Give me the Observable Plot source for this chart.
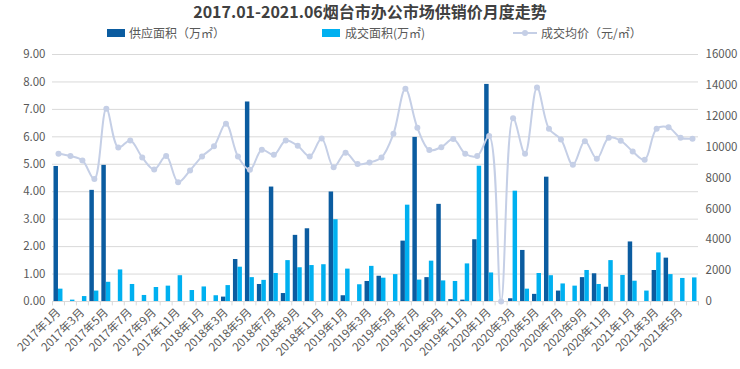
<!DOCTYPE html>
<html>
<head>
<meta charset="utf-8">
<script src="https://cdn.jsdelivr.net/npm/d3@7"></script>
<script src="https://cdn.jsdelivr.net/npm/@observablehq/plot@0.6"></script>
<style>
  html, body { margin: 0; padding: 0; background: #fff; }
  #wrap { position: relative; width: 740px; height: 369px; font-family: "Noto Sans CJK SC", "Noto Sans", sans-serif; }
  #head { position: relative; width: 740px; height: 44px; }
  #title { position: absolute; left: 0; width: 740px; top: 3px; text-align: center; font-size: 16px; font-weight: bold; color: #404040; line-height: 16px; }
  .lg { position: absolute; top: 25px; font-size: 12px; color: #595959; line-height: 16px; white-space: nowrap; }
  .sw { position: absolute; top: 29px; width: 18px; height: 8px; }
  #chart { position: absolute; left: 0; top: 44px; }
</style>
</head>
<body>
<div id="wrap">
  <div id="head">
    <div id="title">2017.01-2021.06烟台市办公市场供销价月度走势</div>
    <div class="sw" style="left:107px;background:#0b5ca0"></div>
    <div class="lg" style="left:129px">供应面积（万㎡）</div>
    <div class="sw" style="left:322px;background:#00b0f0"></div>
    <div class="lg" style="left:345px">成交面积(万㎡)</div>
    <svg style="position:absolute;left:513px;top:27px" width="24" height="12"><line x1="0" y1="6" x2="24" y2="6" stroke="#c5cfe6" stroke-width="2"/><circle cx="12" cy="6" r="3" fill="#c5cfe6"/></svg>
    <div class="lg" style="left:541px">成交均价（元/㎡）</div>
  </div>
  <div id="chart"></div>
</div>
<script>
const months = [
  "2017年1月","2017年2月","2017年3月","2017年4月","2017年5月","2017年6月","2017年7月","2017年8月","2017年9月","2017年10月","2017年11月","2017年12月",
  "2018年1月","2018年2月","2018年3月","2018年4月","2018年5月","2018年6月","2018年7月","2018年8月","2018年9月","2018年10月","2018年11月","2018年12月",
  "2019年1月","2019年2月","2019年3月","2019年4月","2019年5月","2019年6月","2019年7月","2019年8月","2019年9月","2019年10月","2019年11月","2019年12月",
  "2020年1月","2020年2月","2020年3月","2020年4月","2020年5月","2020年6月","2020年7月","2020年8月","2020年9月","2020年10月","2020年11月","2020年12月",
  "2021年1月","2021年2月","2021年3月","2021年4月","2021年5月","2021年6月"
];
const supply = [
  4.92,0,0,4.05,4.96,0,0,0,0,0,0,0,
  0,0,0.16,1.53,7.27,0.62,4.17,0.29,2.41,2.65,0,3.99,
  0.21,0,0.73,0.92,0,2.20,5.98,0.87,3.54,0.07,0.05,2.25,
  7.91,0,0.10,1.86,0.26,4.53,0.38,0,0.87,1.01,0.52,0,
  2.17,0,1.13,1.58,0,0
];
const sales = [
  0.45,0.05,0.18,0.38,0.70,1.15,0.62,0.22,0.51,0.56,0.94,0.40,
  0.53,0.21,0.58,1.25,0.87,0.77,1.02,1.49,1.23,1.31,1.34,2.98,
  1.18,0.61,1.28,0.85,0.98,3.51,0.78,1.47,0.75,0.73,1.37,4.93,
  1.04,0,4.02,0.45,1.02,0.94,0.64,0.56,1.13,0.62,1.49,0.95,
  0.74,0.38,1.77,0.98,0.84,0.86
];
const price = [
  9570,9420,9140,7930,12480,9980,10430,9330,8550,9420,7730,8490,
  9400,10060,11510,9400,8530,9830,9500,10430,10090,9400,10560,8700,
  9640,8900,9010,9330,10860,13780,11250,9810,10000,10520,9570,9420,
  10720,0,11870,9570,13870,11190,10500,8860,10380,9250,10610,10410,
  9720,9180,11190,11280,10610,10550
];
const leftTicks = [0,1,2,3,4,5,6,7,8,9];
const rightTicks = [0,2000,4000,6000,8000,10000,12000,14000,16000];
const leftMax = 9, rightMax = 16000;

const data = months.map((m, i) => ({month: m, supply: supply[i], sales: sales[i], price: price[i]}));
const toLeft = p => p * leftMax / rightMax;

const W = 740, H = 325, mL = 52, mR = 42;
const half = (W - mL - mR) / months.length / 2;
const labelMonths = months.filter((d, i) => i % 2 === 0);

const chart = Plot.plot({
  width: W, height: H,
  marginTop: 10, marginBottom: 68, marginLeft: mL, marginRight: mR,
  style: {fontFamily: '"Noto Sans CJK SC", "Noto Sans", sans-serif', fontSize: "11.5px", color: "#595959", background: "transparent"},
  x: {type: "band", domain: months, padding: 0, label: null},
  y: {domain: [0, leftMax], label: null},
  marks: [
    Plot.gridY(leftTicks.slice(1), {stroke: "#d9d9d9", strokeOpacity: 1}),
    Plot.barY(data, {x: "month", y: "supply", fill: "#0b5ca0", insetLeft: 1.5, insetRight: 6}),
    Plot.barY(data, {x: "month", y: "sales", fill: "#00b0f0", insetLeft: 6, insetRight: 1.5}),
    Plot.ruleY([0], {stroke: "#d9d9d9"}),
    Plot.ruleX(months, {x: d => d, y1: 0, y2: -0.16, dx: -half, stroke: "#d9d9d9"}),
    Plot.ruleX(months.slice(-1), {x: d => d, y1: 0, y2: -0.16, dx: half, stroke: "#d9d9d9"}),
    Plot.line(data, {x: "month", y: d => toLeft(d.price), stroke: "#c5cfe6", strokeWidth: 2, curve: "catmull-rom"}),
    Plot.dot(data, {x: "month", y: d => toLeft(d.price), r: 3, fill: "#c5cfe6"}),
    Plot.axisY(leftTicks, {anchor: "left", tickSize: 0, tickPadding: 7, label: null, tickFormat: d => d.toFixed(2), fill: "#595959"}),
    Plot.axisY(rightTicks.map(toLeft), {anchor: "right", tickSize: 0, tickPadding: 7, label: null, tickFormat: d => String(Math.round(d * rightMax / leftMax)), fill: "#595959"}),
    Plot.axisX(labelMonths, {tickRotate: -45, tickSize: 0, tickPadding: 9, label: null, fontSize: 11.5, fill: "#595959"})
  ]
});
document.getElementById("chart").appendChild(chart);
</script>
</body>
</html>
